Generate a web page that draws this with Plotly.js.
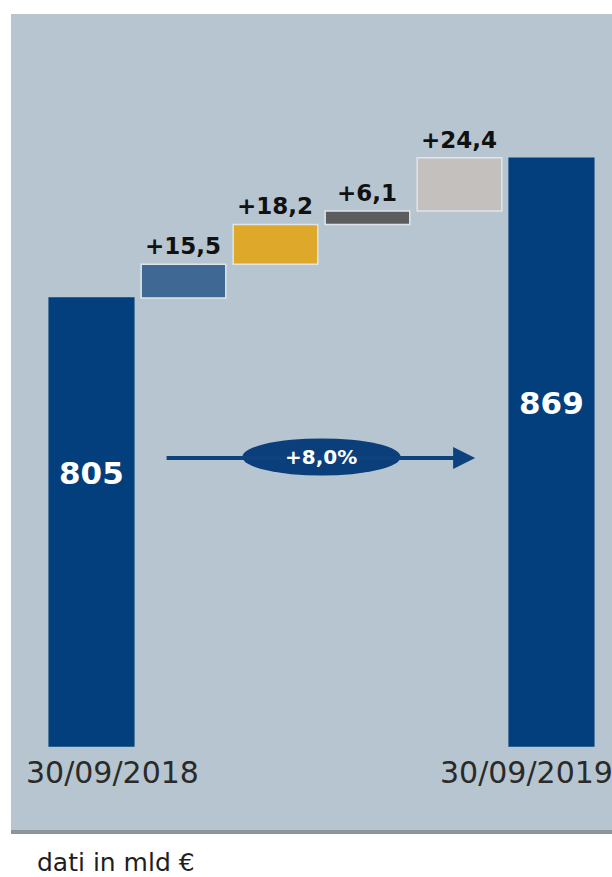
<!DOCTYPE html>
<html>
<head>
<meta charset="utf-8">
<script src="https://cdn.plot.ly/plotly-3.0.1.min.js"></script>
<style>html,body{margin:0;padding:0;background:#fff;}#chart{width:612px;height:877px;}</style>
</head>
<body>
<div id="chart"></div>
<script>
// ---- data ----
const steps = ["start", "inc1", "inc2", "inc3", "inc4", "end"];
const values = [805, 15.5, 18.2, 6.1, 24.4, 869];
const kinds = ["total", "relative", "relative", "relative", "relative", "total"];
const dateLabels = ["30/09/2018", "30/09/2019"];
const growthLabel = "+8,0%";
const noteText = "dati in mld €";

// ---- styles ----
const axisBase = 600;
const barColors = ["#023f7c", "#3f6894", "#dea82b", "#5c5c5c", "#c3c0be", "#023f7c"];
const lineColors = ["#023f7c", "#dfe5ea", "#dfe5ea", "#dfe5ea", "#dfe5ea", "#023f7c"];

const xs = steps.map((_, i) => i);
const bases = [], heights = [];
let running = 0;
values.forEach((v, i) => {
  if (kinds[i] === "total") { bases.push(axisBase); heights.push(v - axisBase); running = v; }
  else { bases.push(running); heights.push(v); running += v; }
});
const fmt = v => (v >= 0 ? "+" : "") + v.toFixed(1).replace(".", ",");

const trace = {
  type: "bar", x: xs, y: heights, base: bases, width: 0.92,
  marker: { color: barColors, line: { color: lineColors, width: 1.5 } },
  hoverinfo: "skip", showlegend: false
};

const annotations = [];
values.forEach((v, i) => {
  if (kinds[i] === "relative") {
    annotations.push({ x: i, y: bases[i] + heights[i], xref: "x", yref: "y", text: fmt(v),
      showarrow: false, yanchor: "bottom", yshift: 3,
      font: { family: "DejaVu Sans", size: 23, color: "#111", weight: "bold" } });
  }
});
const totalLabelY = [725, 757];
[0, 5].forEach((idx, k) => {
  annotations.push({ x: idx, y: totalLabelY[k], xref: "x", yref: "y", text: String(values[idx]),
    showarrow: false, yanchor: "middle",
    font: { family: "DejaVu Sans", size: 31, color: "#ffffff", weight: "bold" } });
});
const dateShift = [21, -25];
[0, 5].forEach((idx, k) => {
  annotations.push({ x: idx, y: 588, xref: "x", yref: "y", text: dateLabels[k], xshift: dateShift[k],
    showarrow: false, yanchor: "middle",
    font: { family: "DejaVu Sans", size: 30, color: "#2a2a2a" } });
});
// growth arrow
annotations.push({ x: 4.17, y: 731.8, ax: 0.8, ay: 731.8, xref: "x", yref: "y", axref: "x", ayref: "y",
  text: "", showarrow: true, arrowhead: 2, arrowsize: 1.1, arrowwidth: 4, arrowcolor: "#0d427e" });
annotations.push({ x: 2.5, y: 732.2, xref: "x", yref: "y", text: growthLabel, showarrow: false,
  font: { family: "DejaVu Sans", size: 20, color: "#ffffff", weight: "bold" } });
annotations.push({ x: 0.04, y: -0.04, xref: "paper", yref: "paper", text: noteText, showarrow: false,
  xanchor: "left", yanchor: "middle", font: { family: "DejaVu Sans", size: 25, color: "#1e1e1e" } });

const layout = {
  width: 612, height: 877,
  margin: { l: 11, r: 0, t: 14, b: 47, pad: 0 },
  paper_bgcolor: "#ffffff", plot_bgcolor: "#b6c5cf",
  xaxis: { range: [-0.875, 5.658], showgrid: false, zeroline: false, showticklabels: false, showline: false, fixedrange: true },
  yaxis: { range: [561.6, 935], showgrid: false, zeroline: false, showticklabels: false, showline: false, fixedrange: true },
  bargap: 0,
  shapes: [
    { type: "circle", xref: "x", yref: "y", x0: 1.64, x1: 3.36, y0: 723.8, y1: 740.8,
      fillcolor: "#0a3f7c", line: { width: 0 }, layer: "above" },
    { type: "rect", xref: "paper", yref: "paper", x0: 0, x1: 1, y0: -0.005, y1: 0,
      fillcolor: "#8e959a", line: { width: 0 } }
  ],
  annotations: annotations
};

Plotly.newPlot("chart", [trace], layout, { displayModeBar: false, staticPlot: true });
</script>
</body>
</html>
